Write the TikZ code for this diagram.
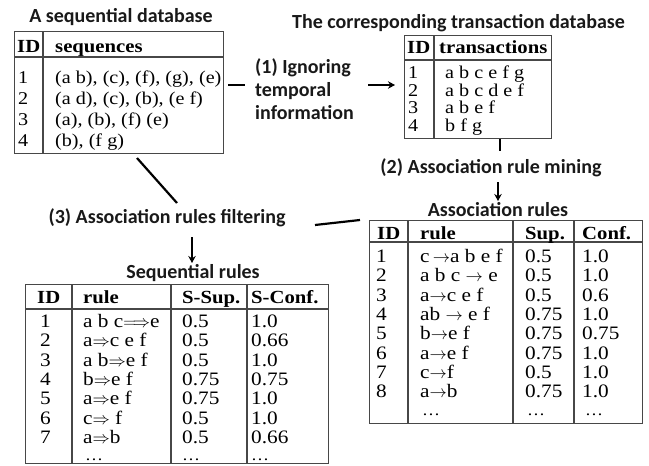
\documentclass[tikz,border=0pt]{standalone}
\usepackage{fontspec}
\setmainfont{Liberation Serif}[FakeStretch=1.12]
\newfontfamily\labfont{Carlito}
\usetikzlibrary{arrows.meta}
\tikzset{
  tbl/.style={draw=black!72, line width=1.1pt, inner sep=0pt, anchor=north west},
  tline/.style={draw=black!72, line width=1.1pt},
  hline/.style={draw=black!72, line width=1.6pt},
  lab/.style={font=\labfont\bfseries\fontsize{20}{23}\selectfont, inner sep=0pt, text=black!90},
  cA/.style={font=\fontsize{18}{20}\selectfont, inner sep=0pt, anchor=base west},
  cB/.style={font=\fontsize{19}{20}\selectfont, inner sep=0pt, anchor=base west},
  dots/.style={font=\fontsize{16}{16}\selectfont, inner sep=0pt, anchor=base west},
  hA/.style={font=\bfseries\fontsize{18.5}{20}\selectfont, inner sep=0pt, anchor=base west},
  hB/.style={font=\bfseries\fontsize{18.5}{20}\selectfont, inner sep=0pt, anchor=base west},
  conn/.style={line width=2.2pt, black},
  arr/.style={conn, -{Stealth[length=7pt,width=7.5pt]}}
}
\begin{document}
\begin{tikzpicture}[x=1pt,y=-1pt]
\useasboundingbox (0,0) rectangle (649,466);

% ---------- Table 1: sequential database ----------
\node[lab] (title1) at (121,17) {A sequential database};
\node[tbl, minimum width=209pt, minimum height=122pt] (t1) at (14,31) {};
\draw[tline] (43,31) -- (43,153);
\draw[hline] (14,57) -- (223,57);
\node[hA] (t1hid) at (17,52.5) {ID};
\node[hA] (t1hs) at (55,52.5) {sequences};
\foreach \s [count=\i] in {{(a b), (c), (f), (g), (e)}, {(a d), (c), (b), (e f)}, {(a), (b), (f) (e)}, {(b), (f g)}} {
  \node[cA] (t1id\i) at (18,{83.5+21*(\i-1)}) {\i};
  \node[cA] (t1s\i) at (55,{83.5+21*(\i-1)}) {\s};
}

% ---------- Table 2: transaction database ----------
\node[lab, anchor=west] (title2) at (292,23) {The corresponding transaction database};
\node[tbl, minimum width=147pt, minimum height=103pt] (t2) at (404,35) {};
\draw[tline] (434,35) -- (434,138);
\draw[hline] (404,60) -- (551,60);
\node[hA] (t2hid) at (407,53) {ID};
\node[hA] (t2ht) at (439,53) {transactions};
\foreach \s [count=\i] in {a b c e f g, a b c d e f, a b e f, b f g} {
  \node[cA] (t2id\i) at (408,{78.5+17.7*(\i-1)}) {\i};
  \node[cA] (t2s\i) at (445,{78.5+17.7*(\i-1)}) {\s};
}

% ---------- step (1) ----------
\node[lab, align=left, anchor=north west] (lab1) at (255,58)
  {(1) Ignoring\\temporal\\information};
\coordinate (d1a) at (228,85);
\coordinate (d1b) at (245,85);
\draw[conn] (d1a) -- (d1b);
\coordinate (a1a) at (368,85);
\coordinate (a1b) at (395,85);
\draw[arr] (a1a) -- (a1b);

% ---------- step (2) ----------
\coordinate (tk2) at (500,151);
\draw[conn] (t2.south -| tk2) -- (tk2);
\node[lab] (lab2) at (491,168) {(2) Association rule mining};
\node[lab] (title3) at (498,210) {Association rules};
\coordinate (a2a) at (498,182);
\coordinate (a2b) at (498,201);
\draw[arr] (a2a) -- (a2b);

% ---------- Table 3: association rules ----------
\node[tbl, minimum width=273pt, minimum height=203pt] (t3) at (369,220) {};
\draw[tline] (408,220) -- (408,423);
\draw[tline] (513,220) -- (513,423);
\draw[tline] (574,220) -- (574,423);
\draw[hline] (369,242) -- (642,242);
\node[hB] (t3hid) at (377,239.5) {ID};
\node[hB] (t3hr) at (420,239.5) {rule};
\node[hB] (t3hs) at (525,239.5) {Sup.};
\node[hB] (t3hc) at (582,239.5) {Conf.};
\foreach \r/\s/\c [count=\i] in {{c\,$\rightarrow$a b e f}/0.5/1.0, {a b c $\rightarrow$ e}/0.5/1.0, {a$\rightarrow$c e f}/0.5/0.6, {ab $\rightarrow$ e f}/0.75/1.0, {b$\rightarrow$e f}/0.75/0.75, {a$\rightarrow$e f}/0.75/1.0, {c$\rightarrow$f}/0.5/1.0, {a$\rightarrow$b}/0.75/1.0} {
  \node[cB] (t3id\i) at (376,{262.5+19.3*(\i-1)}) {\i};
  \node[cB] (t3r\i) at (420,{262.5+19.3*(\i-1)}) {\r};
  \node[cB] (t3s\i) at (525,{262.5+19.3*(\i-1)}) {\s};
  \node[cB] (t3c\i) at (582,{262.5+19.3*(\i-1)}) {\c};
}
\node[dots] (t3rd) at (422,415) {\ldots};
\node[dots] (t3sd) at (527,415) {\ldots};
\node[dots] (t3cd) at (585,415) {\ldots};

% ---------- step (3) ----------
\node[lab] (lab3) at (167,218) {(3) Association rules filtering};
\coordinate (l3a) at (137,158);
\coordinate (l3b) at (177,203);
\draw[conn] (l3a) -- (l3b);
\coordinate (l3c) at (315,225);
\coordinate (l3d) at (360,220);
\draw[conn] (l3c) -- (l3d);
\node[lab] (title4) at (193,273) {Sequential rules};
\coordinate (a3a) at (192,237);
\coordinate (a3b) at (192,263);
\draw[arr] (a3a) -- (a3b);

% ---------- Table 4: sequential rules ----------
\node[tbl, minimum width=303pt, minimum height=179pt] (t4) at (25,284) {};
\draw[tline] (72,284) -- (72,463);
\draw[tline] (171,284) -- (171,463);
\draw[tline] (247,284) -- (247,463);
\draw[hline] (25,309) -- (328,309);
\node[hB] (t4hid) at (37,303.5) {ID};
\node[hB] (t4hr) at (83,303.5) {rule};
\node[hB] (t4hs) at (182,303.5) {S-Sup.};
\node[hB] (t4hc) at (251,303.5) {S-Conf.};
\foreach \r/\s/\c [count=\i] in {{a b c$\Longrightarrow$e}/0.5/1.0, {a$\Rightarrow$c e f}/0.5/0.66, {a b$\Rightarrow$e f}/0.5/1.0, {b$\Rightarrow$e f}/0.75/0.75, {a$\Rightarrow$e f}/0.75/1.0, {c$\Rightarrow$ f}/0.5/1.0, {a$\Rightarrow$b}/0.5/0.66} {
  \node[cB] (t4id\i) at (40,{327.5+19.3*(\i-1)}) {\i};
  \node[cB] (t4r\i) at (83,{327.5+19.3*(\i-1)}) {\r};
  \node[cB] (t4s\i) at (182,{327.5+19.3*(\i-1)}) {\s};
  \node[cB] (t4c\i) at (251,{327.5+19.3*(\i-1)}) {\c};
}
\node[dots] (t4rd) at (85,460) {\ldots};
\node[dots] (t4sd) at (182,460) {\ldots};
\node[dots] (t4cd) at (251,460) {\ldots};
\end{tikzpicture}
\end{document}
